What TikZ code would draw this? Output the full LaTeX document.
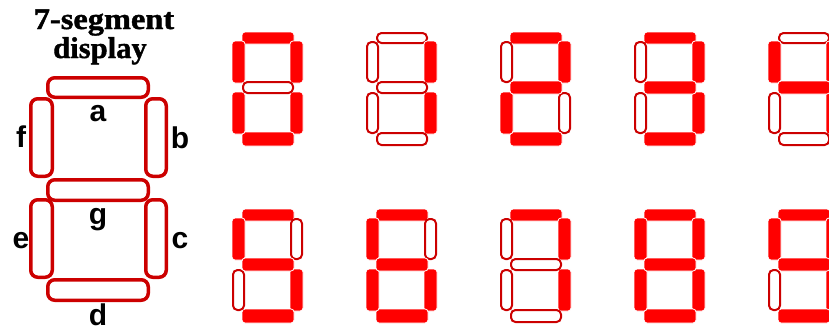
\documentclass[tikz,border=0pt]{standalone}
\usepackage{fontspec}
\setmainfont{Liberation Serif}
\newfontfamily\lblfont{Liberation Sans}
\newfontfamily\titlefont[BoldFeatures={FakeBold=1.3}]{Liberation Serif}
\definecolor{segred}{HTML}{FF0000}
\definecolor{segdark}{HTML}{CC0000}
\tikzset{
  segon/.style={fill=segred, draw=white, line width=0.8pt, rounded corners=3pt},
  segoff/.style={draw=segdark, line width=2pt, rounded corners=4.5pt},
  bigseg/.style={draw=segdark, line width=3.5pt, rounded corners=7pt},
  seglabel/.style={font=\lblfont\bfseries\fontsize{30}{30}\selectfont, anchor=base, inner sep=0pt},
  titletext/.style={font=\titlefont\bfseries\fontsize{30}{30}\selectfont, anchor=base, inner sep=0pt}
}
\newcommand\oneseg[5]{\ifnum#5=1\relax
  \fill[segon] (#1,#2) rectangle (#3,#4);%
  \else
  \draw[segoff] ({#1+1},{#2+1}) rectangle ({#3-1},{#4-1});%
  \fi}
\newcommand\segdigit[9]{%
  \begin{scope}[shift={(#1,#2)}]
    \oneseg{10}{0}{62}{12}{#3}%
    \oneseg{58}{9}{71}{51}{#4}%
    \oneseg{58}{60}{71}{102}{#5}%
    \oneseg{10}{100}{62}{114}{#6}%
    \oneseg{0}{60}{13}{102}{#7}%
    \oneseg{0}{9}{13}{51}{#8}%
    \oneseg{10}{49}{62}{62}{#9}%
  \end{scope}}
\begin{document}
\begin{tikzpicture}[x=1pt,y=-1pt]
\useasboundingbox (0,0) rectangle (829,330);
\clip (0,0) rectangle (829,330);
% title
\node[titletext, xscale=1.08, text depth=0pt] (t1) at (104,29) {7-segment};
\node[titletext, xscale=1.02, text height=17pt] (t2) at (100,58) {display};
% labelled segment diagram
\draw[bigseg] (47.75,77.75) rectangle (148.25,97.25);   % a
\draw[bigseg] (145.75,98.75) rectangle (166.25,176.25); % b
\draw[bigseg] (145.75,199.75) rectangle (166.25,277.25);% c
\draw[bigseg] (47.75,279.75) rectangle (148.25,300.25); % d
\draw[bigseg] (30.75,199.75) rectangle (52.25,277.25);  % e
\draw[bigseg] (30.75,98.75) rectangle (52.25,176.25);   % f
\draw[bigseg] (47.75,179.75) rectangle (148.25,200.25); % g
\node[seglabel] (la) at (98,121) {a};
\node[seglabel] (lb) at (180,148) {b};
\node[seglabel] (lf) at (21,147) {f};
\node[seglabel] (lg) at (98,224) {g};
\node[seglabel] (le) at (21,248) {e};
\node[seglabel] (lc) at (180,248) {c};
\node[seglabel] (ld) at (98,325) {d};
% digits 0-4
\segdigit{232}{32}{1}{1}{1}{1}{1}{1}{0}
\segdigit{366}{32}{0}{1}{1}{0}{0}{0}{0}
\segdigit{500}{32}{1}{1}{0}{1}{1}{0}{1}
\segdigit{634}{32}{1}{1}{1}{1}{0}{0}{1}
\segdigit{768}{32}{0}{1}{1}{0}{0}{1}{1}
% digits 5-9
\segdigit{232}{209}{1}{0}{1}{1}{0}{1}{1}
\segdigit{366}{209}{1}{0}{1}{1}{1}{1}{1}
\segdigit{500}{209}{1}{1}{1}{0}{0}{0}{0}
\segdigit{634}{209}{1}{1}{1}{1}{1}{1}{1}
\segdigit{768}{209}{1}{1}{1}{1}{0}{1}{1}
\end{tikzpicture}
\end{document}
